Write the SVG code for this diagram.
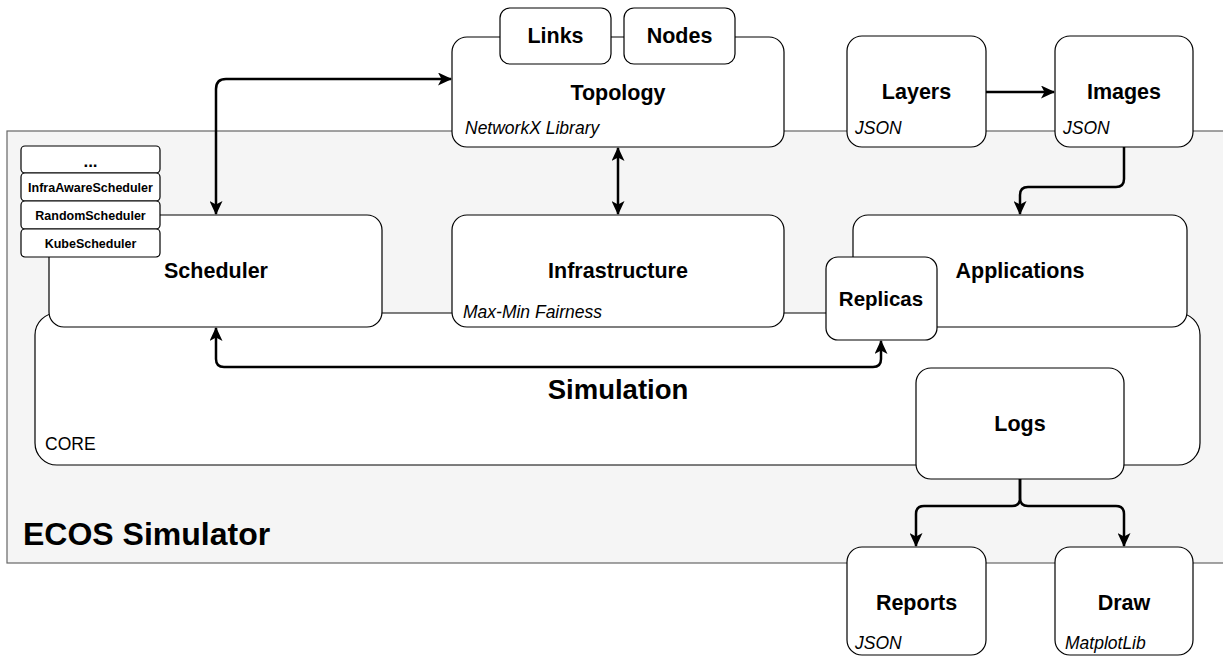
<svg xmlns="http://www.w3.org/2000/svg" width="1223" height="657" viewBox="0 0 1223 657">
<style>
.box{fill:#fff;stroke:#000;stroke-width:1.2}
.t{font-family:"Liberation Sans",Arial,sans-serif;font-weight:bold;font-size:21.5px;fill:#000;text-anchor:middle}
.s{font-family:"Liberation Sans",Arial,sans-serif;font-weight:bold;font-size:12.5px;fill:#000;text-anchor:middle}
.i{font-family:"Liberation Sans",Arial,sans-serif;font-style:italic;font-size:17.5px;fill:#000}
.c{fill:none;stroke:#000;stroke-width:2.5}
</style>
<defs>
<marker id="ah" viewBox="0 0 14 13" refX="13" refY="6.5" markerWidth="14" markerHeight="13" markerUnits="userSpaceOnUse" orient="auto-start-reverse">
<path d="M0,0 L14,6.5 L0,13 L3.5,6.5 z" fill="#000"/>
</marker>
</defs>
<g id="ecos">
<rect x="7" y="131" width="1225" height="432" fill="#f5f5f5" stroke="#666" stroke-width="1.2"/>
<text x="23" y="545" style="font-family:'Liberation Sans',Arial,sans-serif;font-weight:bold;font-size:32px">ECOS Simulator</text>
</g>
<g id="core">
<rect class="box" x="35" y="313" width="1165" height="152" rx="22"/>
<text x="45" y="450" style="font-family:'Liberation Sans',Arial,sans-serif;font-size:17.5px">CORE</text>
<text class="t" x="618" y="399" style="font-size:27.5px">Simulation</text>
</g>
<g id="scheduler">
<rect class="box" x="49" y="215" width="333" height="112" rx="15"/>
<text class="t" x="216" y="278">Scheduler</text>
</g>
<g id="infrastructure">
<rect class="box" x="452" y="215" width="332" height="112" rx="15"/>
<text class="t" x="618" y="278">Infrastructure</text>
<text class="i" x="463" y="318">Max-Min Fairness</text>
</g>
<g id="applications">
<rect class="box" x="853" y="215" width="334" height="112" rx="15"/>
<text class="t" x="1020" y="278">Applications</text>
</g>
<g id="replicas">
<rect class="box" x="826" y="257" width="111" height="83" rx="12"/>
<text class="t" x="881" y="306" style="font-size:20.5px">Replicas</text>
</g>
<g id="logs">
<rect class="box" x="916" y="368" width="208" height="111" rx="15"/>
<text class="t" x="1020" y="431">Logs</text>
</g>
<g id="topology">
<rect class="box" x="452" y="37" width="332" height="110" rx="15"/>
<text class="t" x="618" y="100">Topology</text>
<text class="i" x="465" y="134">NetworkX Library</text>
</g>
<g id="links">
<rect class="box" x="500" y="8" width="111" height="56" rx="10"/>
<text class="t" x="555.5" y="43">Links</text>
</g>
<g id="nodes">
<rect class="box" x="624" y="8" width="111" height="56" rx="10"/>
<text class="t" x="679.5" y="43">Nodes</text>
</g>
<g id="layers">
<rect class="box" x="847" y="36" width="139" height="111" rx="15"/>
<text class="t" x="916.5" y="99">Layers</text>
<text class="i" x="855" y="134">JSON</text>
</g>
<g id="images">
<rect class="box" x="1055" y="36" width="138" height="111" rx="15"/>
<text class="t" x="1124" y="99">Images</text>
<text class="i" x="1063" y="134">JSON</text>
</g>
<g id="reports">
<rect class="box" x="847" y="547" width="139" height="108" rx="15"/>
<text class="t" x="916.5" y="610">Reports</text>
<text class="i" x="855" y="649">JSON</text>
</g>
<g id="draw">
<rect class="box" x="1055" y="547" width="138" height="108" rx="15"/>
<text class="t" x="1124" y="610">Draw</text>
<text class="i" x="1065" y="649">MatplotLib</text>
</g>
<g id="scheduler-list">
<rect class="box" x="21" y="146" width="139" height="27" rx="4"/>
<text class="s" x="90.5" y="167" style="font-size:17px">...</text>
<rect class="box" x="21" y="173" width="139" height="28" rx="4"/>
<text class="s" x="90.5" y="192">InfraAwareScheduler</text>
<rect class="box" x="21" y="201" width="139" height="28" rx="4"/>
<text class="s" x="90.5" y="220">RandomScheduler</text>
<rect class="box" x="21" y="229" width="139" height="28" rx="4"/>
<text class="s" x="90.5" y="247.5">KubeScheduler</text>
</g>
<g id="connectors">
<path class="c" d="M216,214 L216,89 Q216,79 226,79 L451,79" marker-start="url(#ah)" marker-end="url(#ah)"/>
<path class="c" d="M618,148 L618,214" marker-start="url(#ah)" marker-end="url(#ah)"/>
<path class="c" d="M986,92 L1054,92" marker-end="url(#ah)"/>
<path class="c" d="M1124,147 L1124,179 Q1124,187 1116,187 L1028,187 Q1020,187 1020,195 L1020,214" marker-end="url(#ah)"/>
<path class="c" d="M216,328 L216,359 Q216,367 224,367 L873,367 Q881,367 881,359 L881,341" marker-start="url(#ah)" marker-end="url(#ah)"/>
<path class="c" d="M1020,479 L1020,498 Q1020,506 1012,506 L924,506 Q916,506 916,514 L916,546" marker-end="url(#ah)"/>
<path class="c" d="M1020,479 L1020,498 Q1020,506 1028,506 L1116,506 Q1124,506 1124,514 L1124,546" marker-end="url(#ah)"/>
</g>
</svg>
